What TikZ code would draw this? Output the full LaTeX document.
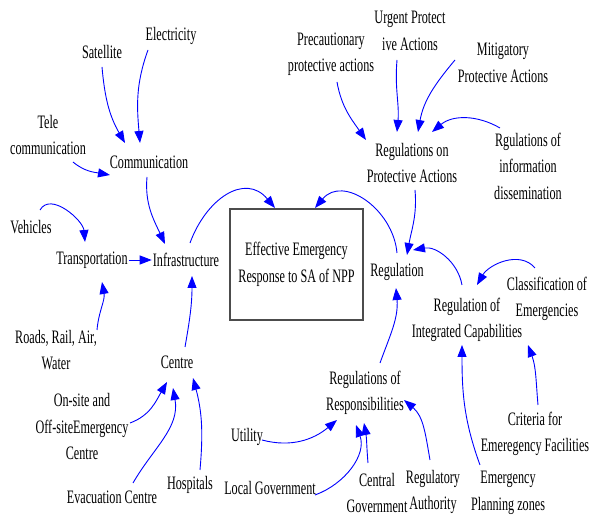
\documentclass[tikz,border=0pt]{standalone}
\usepackage{fontspec}
\setmainfont{Liberation Serif}[FakeStretch=0.64]
\usetikzlibrary{arrows.meta}

\tikzset{CLDv/.style={align=center,inner sep=1pt,font=\fontsize{19}{26.5}\selectfont},
         CLDbox/.style={draw=black!70,line width=1.2pt,minimum width=133pt,minimum height=111pt},
         CLDarr/.style={blue,line width=0.9pt,-{Triangle[length=12pt,width=9pt]}}}

\begin{document}
\begin{tikzpicture}[x=1pt,y=1pt]
  \useasboundingbox (0,0) rectangle (590,516);
  % goal
  \node[CLDbox,CLDv] (box) at (296.5,251.5) {Effective Emergency\\Response to SA of NPP};
  % infrastructure side
  \node[CLDv] (sat) at (102,464) {Satellite};
  \node[CLDv] (elec) at (171,480) {Electricity};
  \node[CLDv] (tele) at (48,381) {Tele\\communication};
  \node[CLDv] (comm) at (149,354) {Communication};
  \node[CLDv] (veh) at (31,289) {Vehicles};
  \node[CLDv] (trans) at (92,256) {Transportation};
  \node[CLDv] (infra) at (186,256) {Infrastructure};
  \node[CLDv] (roads) at (56,166) {Roads, Rail, Air,\\Water};
  \node[CLDv] (centre) at (177,154) {Centre};
  \node[CLDv] (onsite) at (82,89) {On-site and\\Off-siteEmergency\\Centre};
  \node[CLDv] (evac) at (112,19) {Evacuation Centre};
  \node[CLDv] (hosp) at (190,31) {Hospitals};
  % regulation side
  \node[CLDv] (reg) at (397,244) {Regulation};
  \node[CLDv] (regpa) at (412,353) {Regulations on\\Protective Actions};
  \node[CLDv] (prec) at (331,462) {Precautionary\\protective actions};
  \node[CLDv] (urg) at (410,485) {Urgent Protect\\ive Actions};
  \node[CLDv] (mitig) at (503,453) {Mitigatory\\Protective Actions};
  \node[CLDv] (rinfo) at (528,350) {Rgulations of\\information\\dissemination};
  \node[CLDv] (regic) at (467,196) {Regulation of\\Integrated Capabilities};
  \node[CLDv] (classif) at (547,217) {Classification of\\Emergencies};
  \node[CLDv] (crit) at (535,82) {Criteria for\\Emeregency Facilities};
  \node[CLDv] (epz) at (508,23) {Emergency\\Planning zones};
  \node[CLDv] (rauth) at (433,24) {Regulatory\\Authority};
  \node[CLDv] (cgov) at (377,23) {Central\\Government};
  \node[CLDv] (regresp) at (365,123) {Regulations of\\Responsibilities};
  \node[CLDv] (util) at (247,79) {Utility};
  \node[CLDv] (lgov) at (270,28) {Local Government};

  % communication and transport
  \draw[CLDarr] ([shift={(0,-15)}]sat.center) to[out=-85,in=120] ([shift={(-24,19)}]comm.center);
  \draw[CLDarr] ([shift={(-23,-14)}]elec.center) to[out=-110,in=95] ([shift={(-9,19)}]comm.center);
  \draw[CLDarr] ([shift={(25,-27)}]tele.center) to[out=-40,in=170] ([shift={(-39,-13)}]comm.center);
  \draw[CLDarr] ([shift={(-2,-15)}]comm.center) to[out=-95,in=115] ([shift={(-21,16)}]infra.center);
  \draw[CLDarr] ([shift={(9,17)}]veh.center) to[out=60,in=95] ([shift={(-7,18)}]trans.center);
  \draw[CLDarr] (trans) -- (infra);
  \draw[CLDarr] ([shift={(41,20)}]roads.center) to[out=85,in=-80] ([shift={(10,-22)}]trans.center);
  % centres
  \draw[CLDarr] ([shift={(8,15)}]centre.center) to[out=80,in=-90] ([shift={(6,-16)}]infra.center);
  \draw[CLDarr] ([shift={(48,4)}]onsite.center) to[out=20,in=-120] ([shift={(-10,-20)}]centre.center);
  \draw[CLDarr] ([shift={(21,14)}]evac.center) to[out=60,in=-80] ([shift={(-4,-26)}]centre.center);
  \draw[CLDarr] ([shift={(10,15)}]hosp.center) to[out=85,in=-75] ([shift={(16,-16)}]centre.center);
  % into the goal
  \draw[CLDarr] ([shift={(4,17)}]infra.center) to[out=70,in=130,looseness=1.3] ([shift={(-21.5,56.5)}]box.center);
  \draw[CLDarr] ([shift={(0,19)}]reg.center) to[out=95,in=50,looseness=1.2] ([shift={(18.5,56.5)}]box.center);
  % protective actions
  \draw[CLDarr] ([shift={(6,-28)}]prec.center) to[out=-80,in=125] ([shift={(-46,23)}]regpa.center);
  \draw[CLDarr] ([shift={(-13,-29)}]urg.center) to[out=-95,in=85] ([shift={(-15,31)}]regpa.center);
  \draw[CLDarr] ([shift={(-48,3)}]mitig.center) to[out=-130,in=80] ([shift={(6,31)}]regpa.center);
  \draw[CLDarr] ([shift={(-28,38)}]rinfo.center) to[out=150,in=40] ([shift={(20,31)}]regpa.center);
  \draw[CLDarr] ([shift={(3,-27)}]regpa.center) to[out=-85,in=80] ([shift={(10,17)}]reg.center);
  % capabilities
  \draw[CLDarr] ([shift={(-5,35)}]regic.center) to[out=100,in=10] ([shift={(16,22)}]reg.center);
  \draw[CLDarr] ([shift={(-12,31)}]classif.center) to[out=130,in=60] ([shift={(10,35)}]regic.center);
  \draw[CLDarr] ([shift={(3,29)}]crit.center) to[out=95,in=-70] ([shift={(61,-25)}]regic.center);
  \draw[CLDarr] ([shift={(-28,28)}]epz.center) to[out=110,in=-90] ([shift={(-5,-25)}]regic.center);
  % responsibilities
  \draw[CLDarr] ([shift={(15,30)}]regresp.center) to[out=70,in=-85] ([shift={(-1,-16)}]reg.center);
  \draw[CLDarr] ([shift={(-3,32)}]rauth.center) to[out=100,in=-40] ([shift={(39,-7)}]regresp.center);
  \draw[CLDarr] ([shift={(-9,30)}]cgov.center) to[out=95,in=-80] ([shift={(-1,-30)}]regresp.center);
  \draw[CLDarr] ([shift={(45,-7)}]lgov.center) to[out=20,in=-70] ([shift={(-9,-32)}]regresp.center);
  \draw[CLDarr] ([shift={(15,-3)}]util.center) to[out=-15,in=-140] ([shift={(-28,-27)}]regresp.center);
\end{tikzpicture}
\end{document}
